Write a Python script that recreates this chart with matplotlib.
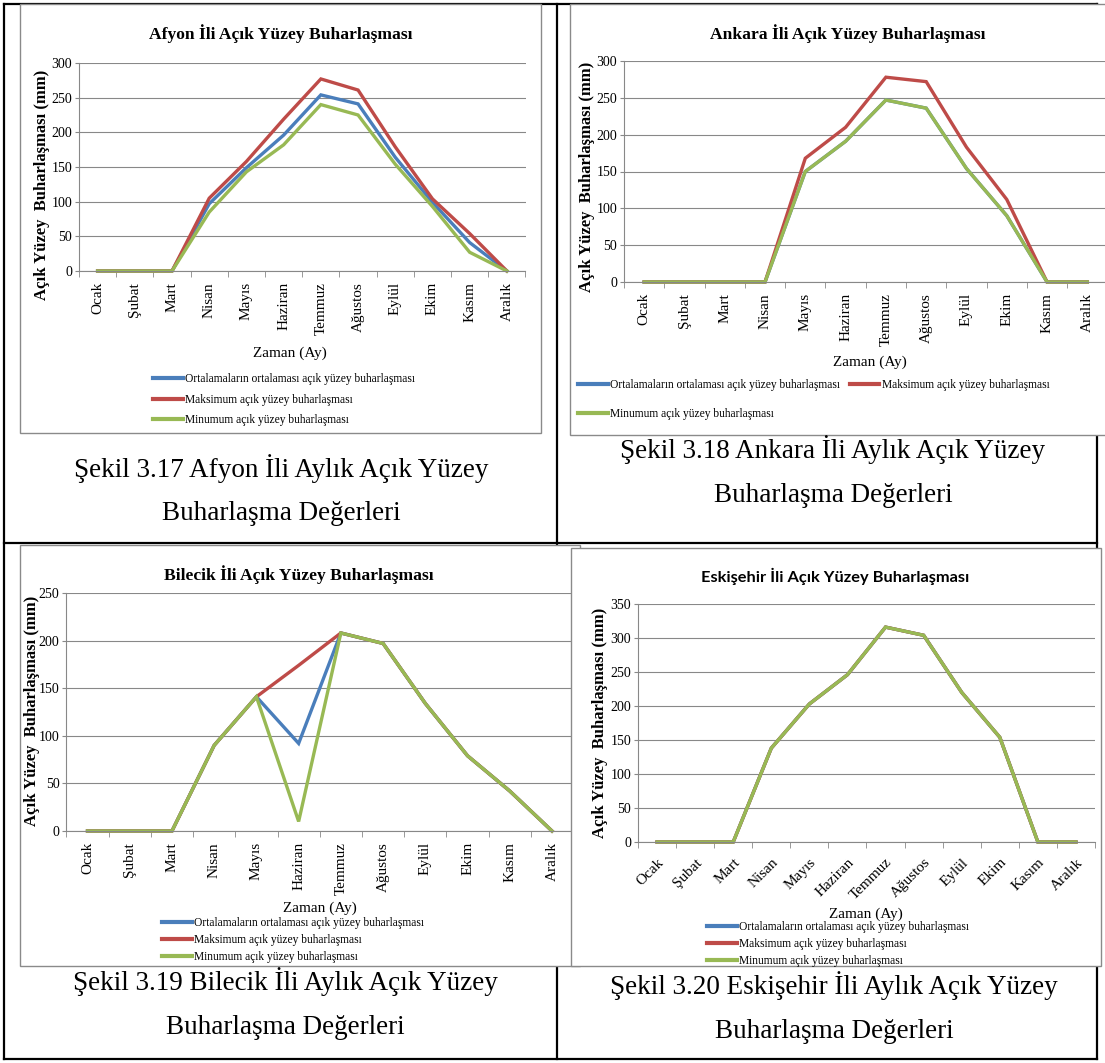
import matplotlib
matplotlib.use("Agg")
import matplotlib.pyplot as plt
from matplotlib.patches import Rectangle
from matplotlib.lines import Line2D

# ---------------- data ----------------
months = ["Ocak", "Şubat", "Mart", "Nisan", "Mayıs", "Haziran", "Temmuz",
          "Ağustos", "Eylül", "Ekim", "Kasım", "Aralık"]

series_names = ["Ortalamaların ortalaması açık yüzey buharlaşması",
                "Maksimum açık yüzey buharlaşması",
                "Minumum açık yüzey buharlaşması"]

afyon_ort = [0, 0, 0, 97, 149, 196, 254, 241, 164, 99, 41, 0]
afyon_max = [0, 0, 0, 105, 158, 219, 277, 261, 179, 104, 54, 0]
afyon_min = [0, 0, 0, 85, 143, 182, 240, 225, 154, 93, 27, 0]

ankara_ort = [0, 0, 0, 0, 150, 191, 247, 236, 154, 90, 0, 0]
ankara_max = [0, 0, 0, 0, 168, 210, 278, 272, 183, 112, 0, 0]
ankara_min = [0, 0, 0, 0, 150, 191, 247, 236, 154, 90, 0, 0]

bilecik_ort = [0, 0, 0, 90, 141, 92, 208, 197, 134, 79, 42, 0]
bilecik_max = [0, 0, 0, 90, 141, 174, 208, 197, 134, 79, 42, 0]
bilecik_min = [0, 0, 0, 90, 141, 10, 208, 197, 134, 79, 42, 0]

eskisehir_ort = [0, 0, 0, 138, 203, 246, 316, 304, 220, 154, 0, 0]
eskisehir_max = [0, 0, 0, 138, 203, 246, 316, 304, 220, 154, 0, 0]
eskisehir_min = [0, 0, 0, 138, 203, 246, 316, 304, 220, 154, 0, 0]

titles = ["Afyon İli Açık Yüzey Buharlaşması",
          "Ankara İli Açık Yüzey Buharlaşması",
          "Bilecik İli Açık Yüzey Buharlaşması",
          "Eskişehir İli Açık Yüzey Buharlaşması"]
captions = [("Şekil 3.17 Afyon İli Aylık Açık Yüzey", "Buharlaşma Değerleri"),
            ("Şekil 3.18 Ankara İli Aylık Açık Yüzey", "Buharlaşma Değerleri"),
            ("Şekil 3.19 Bilecik İli Aylık Açık Yüzey", "Buharlaşma Değerleri"),
            ("Şekil 3.20 Eskişehir İli Aylık Açık Yüzey", "Buharlaşma Değerleri")]
ylabel = "Açık Yüzey  Buharlaşması (mm)"
xlabel = "Zaman (Ay)"

# ---------------- styling ----------------
W, H = 1105, 1063
SERIF = ["Liberation Serif", "DejaVu Serif"]
COLORS = ["#4A7EBB", "#BE4B48", "#98B954"]
GRID = "#888888"

fig = plt.figure(figsize=(W / 100, H / 100), dpi=100)
fig.patch.set_facecolor("white")


def fx(x):
    return x / W


def fy(y):
    return 1 - y / H


def rect(l, t, r, b):
    return [fx(l), fy(b), (r - l) / W, (b - t) / H]


# table lines (drawn beneath chart frames)
TLW = 1.6
for (x0, y0, x1, y1) in [(4, 4, 1097, 4), (4, 1059, 1097, 1059), (4, 4, 4, 1059),
                         (1097, 4, 1097, 1059), (557, 4, 557, 1059), (4, 543, 1097, 543)]:
    fig.add_artist(Line2D([fx(x0), fx(x1)], [fy(y0), fy(y1)], color="black",
                          lw=TLW, transform=fig.transFigure, zorder=-10))


def chart(frame, plot, ymax, ystep, data, title, title_pos, title_font, ylab_pos,
          xlab_pos, leg_pos, leg_cols, leg_spacing, rot, cap_pos, caption, frame_z):
    l, t, r, b = frame
    fig.add_artist(Rectangle((fx(l), fy(b)), (r - l) / W, (b - t) / H,
                             transform=fig.transFigure, facecolor="white",
                             edgecolor="#8a8a8a", lw=1.0, zorder=frame_z))
    pl, pt, pr, pb, ncat_right = plot
    ax = fig.add_axes(rect(pl, pt, pr, pb), zorder=frame_z + 1)
    ax.patch.set_alpha(0)
    xs = list(range(len(months)))
    lines = []
    for vals, c, name in zip(data, COLORS, series_names):
        ln, = ax.plot(xs, vals, color=c, lw=2.4, label=name, solid_joinstyle="miter",
                      clip_on=False)
        lines.append(ln)
    ax.set_xlim(-0.5, ncat_right)
    ax.set_ylim(0, ymax)
    ax.set_yticks(range(0, ymax + 1, ystep))
    ax.set_yticklabels([str(v) for v in range(0, ymax + 1, ystep)],
                       fontsize=10, family=SERIF)
    ax.yaxis.grid(True, color=GRID, lw=0.8)
    ax.set_axisbelow(True)
    for s in ["top", "right"]:
        ax.spines[s].set_visible(False)
    for s in ["left", "bottom"]:
        ax.spines[s].set_color(GRID)
        ax.spines[s].set_linewidth(0.8)
    ax.tick_params(axis="y", length=3, color=GRID, pad=2)
    ax.set_xticks(xs)
    if rot == 90:
        ax.set_xticklabels(months, rotation=90, fontsize=11, family=SERIF)
        ax.tick_params(axis="x", which="major", length=0, pad=8)
    else:
        ax.set_xticklabels(months, rotation=45, ha="right", va="top",
                           rotation_mode="anchor", fontsize=11, family=SERIF)
        ax.tick_params(axis="x", which="major", length=0, pad=10)
    bounds = [i - 0.5 for i in range(len(months) + 1) if i - 0.5 <= ncat_right]
    ax.set_xticks(bounds, minor=True)
    ax.tick_params(axis="x", which="minor", length=4, color=GRID)

    fig.text(fx(title_pos[0]), fy(title_pos[1]), title, ha="center", va="center",
             zorder=frame_z + 2, **title_font)
    fig.text(fx(ylab_pos[0]), fy(ylab_pos[1]), ylabel, rotation=90, ha="center",
             va="center", fontsize=12, fontweight="bold", family=SERIF,
             zorder=frame_z + 2)
    fig.text(fx(xlab_pos[0]), fy(xlab_pos[1]), xlabel, ha="center", va="center",
             fontsize=11, family=SERIF, zorder=frame_z + 2)
    if leg_cols == 2:
        handles = [lines[0], lines[2], lines[1]]
    else:
        handles = lines
    leg = fig.legend(handles=handles, labels=[h.get_label() for h in handles],
                     loc="upper left", bbox_to_anchor=(fx(leg_pos[0]), fy(leg_pos[1])),
                     ncol=leg_cols, frameon=False, borderaxespad=0, borderpad=0,
                     handlelength=2.6, handletextpad=0.2, labelspacing=leg_spacing,
                     columnspacing=0.8, prop={"family": SERIF, "size": 8.3})
    for lh in leg.legend_handles:
        lh.set_linewidth(3)
    leg.set_zorder(frame_z + 2)
    fig.text(fx(cap_pos[0]), fy(cap_pos[1]), caption[0], ha="center", va="center",
             fontsize=19.5, family=SERIF, zorder=frame_z + 2)
    fig.text(fx(cap_pos[0]), fy(cap_pos[2]), caption[1], ha="center", va="center",
             fontsize=19.5, family=SERIF, zorder=frame_z + 2)
    return ax


serif_title = dict(fontsize=12.6, fontweight="bold", family=SERIF)
sans_title = dict(fontsize=11.8, fontweight="bold", family=["Lato", "DejaVu Sans"])

# Afyon
chart((20, 4, 541, 433), (79, 63, 525.5, 271, 11.5), 300, 50,
      [afyon_ort, afyon_max, afyon_min], titles[0], (281, 34), serif_title,
      (42, 185), (290, 353), (153, 373), 1, 0.75, 90, (281, 469, 514), captions[0], 0)

# Ankara
chart((570, 4, 1115, 435), (624, 61, 1107.5, 282, 11.5), 300, 50,
      [ankara_ort, ankara_max, ankara_min], titles[1], (848, 34), serif_title,
      (587, 177), (870, 362), (578, 379), 2, 1.5, 90, (833, 450, 496), captions[1], 0)

# Bilecik
chart((20, 545, 580, 966), (66.4, 593, 571, 831, 11.45), 250, 50,
      [bilecik_ort, bilecik_max, bilecik_min], titles[2], (299, 575), serif_title,
      (32, 711), (320, 908), (162, 917), 1, 0.45, 90, (285, 982, 1028), captions[2], 0)

# Eskişehir
chart((571, 548, 1101, 966), (638, 604, 1095, 842, 11.5), 350, 50,
      [eskisehir_ort, eskisehir_max, eskisehir_min], titles[3], (835, 576), sans_title,
      (600, 723), (866, 914), (707, 921), 1, 0.45, 45, (834, 986, 1031), captions[3], 5)

fig.savefig("out.png", dpi=100, facecolor="white")
